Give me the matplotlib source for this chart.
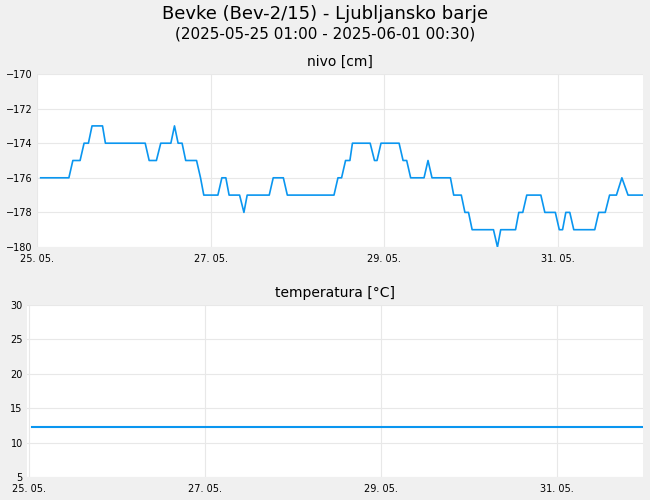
import matplotlib
matplotlib.use("Agg")
import matplotlib.pyplot as plt
import numpy as np

# water level: hours since 25.05. 00:00, level [cm]
lvl_hours = [1, 8.8, 9.9, 11.9, 13, 14.2, 15.2, 18.1, 18.9, 29.9, 31, 33, 34.2, 37, 38, 39, 40.1,
             41.1, 44.1, 45.2, 46.1, 50, 51.1, 52.2, 53.1, 56, 57.2, 58.1, 64.2, 65.3, 68.1, 69.2,
             82.1, 83.2, 84.2, 85.3, 86.5, 87.2, 92.1, 93.3, 94, 95.1, 100.1, 101.2, 102.2, 103.3,
             107, 108.1, 109.2, 114.3, 115.2, 117.3, 118.3, 119.3, 120.3, 126.2, 127.3, 128.2,
             132.3, 133.2, 134.3, 135.4, 139.3, 140.4, 143.3, 144.4, 145.3, 146.2, 147.3, 148.4,
             154.2, 155.3, 157.1, 158.3, 160.2, 161.7, 163.4, 167.5]
lvl_values = [-176, -176, -175, -175, -174, -174, -173, -173, -174, -174, -175, -175, -174, -174, -173, -174, -174,
              -175, -175, -176, -177, -177, -176, -176, -177, -177, -178, -177, -177, -176, -176, -177,
              -177, -176, -176, -175, -175, -174, -174, -175, -175, -174, -174, -175, -175, -176,
              -176, -175, -176, -176, -177, -177, -178, -178, -179, -179, -180, -179,
              -179, -178, -178, -177, -177, -178, -178, -179, -179, -178, -178, -179,
              -179, -178, -178, -177, -177, -176, -177, -177]
temp_hours = [1, 167.5]
temp_values = [12.2, 12.2]
tick_days = [0, 2, 4, 6]
tick_labels = ["25. 05.", "27. 05.", "29. 05.", "31. 05."]

bg = "#f0f0f0"
blue = "#0a96f0"
fig = plt.figure(figsize=(6.5, 5), dpi=100, facecolor=bg)
fig.text(0.5, 0.972, "Bevke (Bev-2/15) - Ljubljansko barje", ha="center", va="center", fontsize=13)
fig.text(0.5, 0.932, "(2025-05-25 01:00 - 2025-06-01 00:30)", ha="center", va="center", fontsize=11)

ax1 = fig.add_axes([0.057, 0.506, 0.932, 0.346])
ax2 = fig.add_axes([0.0415, 0.046, 0.9475, 0.344])

def style(ax, title):
    ax.set_facecolor("white")
    for s in ax.spines.values():
        s.set_visible(False)
    ax.grid(True, color="#e8e8e8", lw=0.8)
    ax.set_axisbelow(True)
    ax.tick_params(axis="y", length=0, labelsize=7, pad=3)
    ax.tick_params(axis="x", length=0, labelsize=7, pad=5)
    ax.set_xticks([d * 24 for d in tick_days])
    ax.set_xticklabels(tick_labels)
    ax.set_title(title, fontsize=10, pad=6)

ax1.plot(lvl_hours, lvl_values, color=blue, lw=1.2)
ax1.set_ylim(-180, -170)
ax1.set_yticks(np.arange(-180, -169, 2))
ax1.set_xlim(0, 167.5)
style(ax1, "nivo [cm]")

ax2.plot(temp_hours, temp_values, color=blue, lw=1.5)
ax2.set_ylim(5, 30)
ax2.set_yticks(np.arange(5, 31, 5))
ax2.set_xlim(-0.5, 167.5)
style(ax2, "temperatura [°C]")

fig.savefig("out.png", dpi=100, facecolor=bg)
